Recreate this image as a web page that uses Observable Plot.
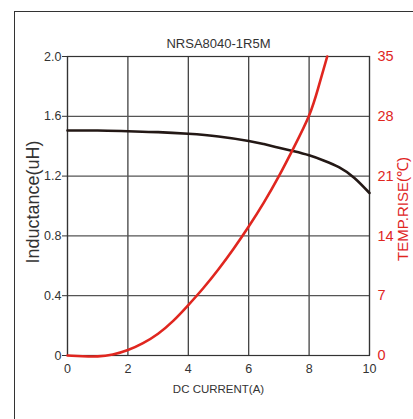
<!DOCTYPE html>
<html><head><meta charset="utf-8">
<script src="https://cdn.jsdelivr.net/npm/d3@7"></script>
<script src="https://cdn.jsdelivr.net/npm/@observablehq/plot@0.6"></script>
<style>
html,body{margin:0;padding:0;background:#fff;}
#wrap{position:relative;width:413px;height:419px;overflow:hidden;font-family:"Liberation Sans",Arial,sans-serif;}
#frame{position:absolute;left:14px;top:11px;width:420px;height:420px;border-left:1.5px solid #333;border-top:1.5px solid #333;}
#chart{position:absolute;left:0;top:0;}
</style></head>
<body><div id="wrap"><div id="frame"></div><div id="chart"></div></div>
<script>
const title = "NRSA8040-1R5M";
const xLabel = "DC CURRENT(A)";
const leftLabel = "Inductance(uH)";
const rightLabel = "TEMP.RISE(\u2103)";
const xTicks = [0, 2, 4, 6, 8, 10];
const lTicks = [0, 0.4, 0.8, 1.2, 1.6, 2.0];
const tTicks = [0, 7, 14, 21, 28, 35];

const lCurrent = [0, 1, 2, 3, 4, 5, 6, 6.5, 7, 7.5, 8, 8.5, 9, 9.5, 10];
const inductance = [1.505, 1.505, 1.50, 1.494, 1.483, 1.465, 1.435, 1.414, 1.39, 1.366, 1.339, 1.303, 1.258, 1.188, 1.087];

const tCurrent = [0, 0.5, 1, 1.5, 2, 2.5, 3, 3.5, 4, 4.5, 5, 5.5, 6, 6.5, 7, 7.5, 8, 8.3, 8.6];
const tempRise = [0, -0.08, -0.1, 0.12, 0.64, 1.45, 2.55, 4.05, 5.9, 7.9, 10.1, 12.5, 15.1, 17.9, 21.0, 24.4, 28.1, 31.3, 35];

const tMax = 35, lMax = 2;
const toL = t => t * lMax / tMax;
const lData = lCurrent.map((c, i) => ({c, v: inductance[i]}));
const tData = tCurrent.map((c, i) => ({c, v: toL(tempRise[i])}));

const RED = "#e0261f";
const chart = Plot.plot({
  width: 413, height: 419,
  marginLeft: 67, marginRight: 44, marginTop: 56, marginBottom: 64,
  style: {fontFamily: "'Liberation Sans', Arial, sans-serif", fontSize: "12px", color: "#333", background: "transparent"},
  x: {domain: [0, 10]},
  y: {domain: [0, lMax]},
  marks: [
    Plot.gridX(xTicks, {stroke: "#333", strokeOpacity: 1, strokeWidth: 1.2}),
    Plot.gridY(lTicks, {stroke: "#555", strokeOpacity: 1, strokeWidth: 1.2}),
    Plot.frame({stroke: "#333", strokeWidth: 1.2}),
    Plot.axisX(xTicks, {tickSize: 0, tickPadding: 9, fontSize: 12.5, label: null, tickFormat: d => String(d)}),
    Plot.axisY(lTicks, {anchor: "left", tickSize: 5, tickPadding: 1, fontSize: 12.5, tickFormat: d => d === 0 ? "0" : d.toFixed(1), label: null}),
    Plot.axisY(tTicks.map(toL), {anchor: "right", tickSize: 0, tickPadding: 8, fontSize: 14.5, fill: RED, tickFormat: d => String(Math.round(d * tMax / lMax)), label: null}),
    Plot.line(lData, {x: "c", y: "v", stroke: "#231815", strokeWidth: 2.6, curve: "natural"}),
    Plot.line(tData, {x: "c", y: "v", stroke: RED, strokeWidth: 2.6, curve: "natural"}),
    Plot.text([title], {frameAnchor: "top", dy: -18, fontSize: 13, fill: "#333"}),
    Plot.text([xLabel], {frameAnchor: "bottom", dy: 37, fontSize: 11.5, fill: "#333"}),
    Plot.text([leftLabel], {frameAnchor: "left", textAnchor: "middle", dx: -34, dy: -4, rotate: -90, fontSize: 18, fill: "#333"}),
    Plot.text([rightLabel], {frameAnchor: "right", textAnchor: "middle", dx: 34, dy: 3, rotate: -90, fontSize: 15, fill: RED})
  ]
});
document.getElementById("chart").appendChild(chart);
</script></body></html>
